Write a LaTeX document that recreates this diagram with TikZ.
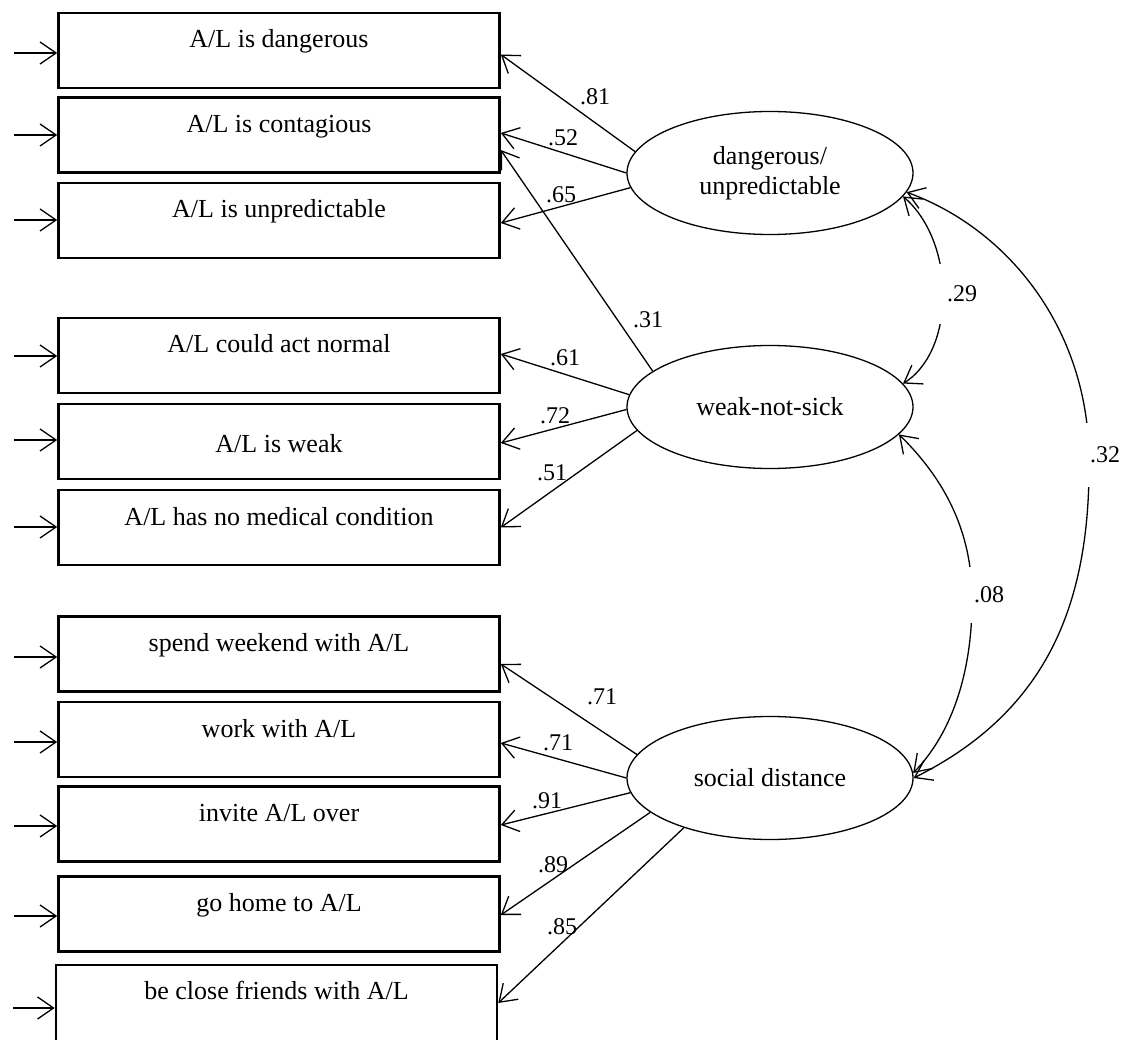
\documentclass[tikz,border=0pt]{standalone}
\usepackage{fontspec}
\setmainfont{Liberation Serif}
\usetikzlibrary{arrows.meta,shapes.geometric,calc}
\begin{document}
\begin{tikzpicture}[x=1pt,y=-1pt,
  box/.style={draw, line width=2.6pt, rectangle, minimum width=441pt, minimum height=75pt, inner sep=0pt},
  btxt/.style={anchor=base, font=\fontsize{26}{30}\selectfont, inner sep=0pt},
  lat/.style={draw, ellipse, line width=1.3pt, minimum width=286pt, minimum height=123pt, inner sep=0pt, align=center, font=\fontsize{26}{30}\selectfont},
  arr/.style={-{Straight Barb[length=16pt,width=22pt]}, line width=1.3pt},
  dbl/.style={{Straight Barb[length=16pt,width=22pt]}-{Straight Barb[length=16pt,width=22pt]}, line width=1.3pt},
  lbl/.style={font=\fontsize{24}{28}\selectfont, inner sep=0pt},
  gap/.style={lbl, fill=white, anchor=west, inner xsep=10pt, inner ysep=0pt}]
\useasboundingbox (0,0) rectangle (1135,1040);
\clip (0,0) rectangle (1135,1040);

% indicator boxes
\node[box] (b1) at (279,50.5) {};
\node[box] (b2) at (279,135) {};
\node[box] (b3) at (279,220.5) {};
\node[box] (b4) at (279,355.5) {};
\node[box] (b5) at (279,441.5) {};
\node[box] (b6) at (279,527.5) {};
\node[box] (b7) at (279,654) {};
\node[box] (b8) at (279,739.5) {};
\node[box] (b9) at (279,824) {};
\node[box] (b10) at (279,914) {};
\node[box, minimum height=90pt] (b11) at (276.5,1010) {};

\node[btxt] (t1) at (279,48) {A/L is dangerous};
\node[btxt] (t2) at (279,133) {A/L is contagious};
\node[btxt] (t3) at (279,218) {A/L is unpredictable};
\node[btxt] (t4) at (279,353) {A/L could act normal};
\node[btxt] (t5) at (279,452) {A/L is weak};
\node[btxt] (t6) at (279,525) {A/L has no medical condition};
\node[btxt] (t7) at (279,651) {spend weekend with A/L};
\node[btxt] (t8) at (279,737) {work with A/L};
\node[btxt] (t9) at (279,821) {invite A/L over};
\node[btxt] (t10) at (279,911) {go home to A/L};
\node[btxt] (t11) at (276.5,999) {be close friends with A/L};

% error arrows
\coordinate (s1) at (14,53);
\coordinate (s2) at (14,135);
\coordinate (s3) at (14,220);
\coordinate (s4) at (14,356);
\coordinate (s5) at (14,440);
\coordinate (s6) at (14,527);
\coordinate (s7) at (14,657);
\coordinate (s8) at (14,742);
\coordinate (s9) at (14,826);
\coordinate (s10) at (14,916);
\coordinate (s11) at (13,1008);
\foreach \i in {1,...,11} {\draw[arr] (s\i) -- (s\i -| b\i.west);}

% latent variables
\node[lat] (e1) at (770,173) {dangerous/\\unpredictable};
\node[lat] (e2) at (770,407) {weak-not-sick};
\node[lat] (e3) at (770,778) {social distance};

% loadings
\draw[arr] (e1.171) -- ($(b1.east)+(0,4)$);
\draw[arr] (e1.180) -- ($(b2.east)+(0,-2)$);
\draw[arr] (e1.186) -- ($(b3.east)+(0,2.5)$);
\draw[arr] (e2.163) -- ($(b2.east)+(0,15)$);
\draw[arr] (e2.175) -- ($(b4.east)+(0,-1.5)$);
\draw[arr] (e2.181) -- ($(b5.east)+(0,1.5)$);
\draw[arr] (e2.190) -- (b6.east);
\draw[arr] (e3.170) -- ($(b7.east)+(0,10)$);
\draw[arr] (e3.180) -- ($(b8.east)+(0,3.5)$);
\draw[arr] (e3.186) -- ($(b9.east)+(0,1)$);
\draw[arr] (e3.196) -- ($(b10.east)+(0,1)$);
\draw[arr] (e3.210.5) -- ($(b11.east)+(0,-7)$);

\node[lbl] (l81) at (595,97) {.81};
\node[lbl] (l52) at (563,138) {.52};
\node[lbl] (l65) at (561,195) {.65};
\node[lbl] (l31) at (648,320) {.31};
\node[lbl] (l61) at (565,358) {.61};
\node[lbl] (l72) at (555,416) {.72};
\node[lbl] (l51) at (552,473) {.51};
\node[lbl] (l71a) at (602,697) {.71};
\node[lbl] (l71b) at (558,743) {.71};
\node[lbl] (l91) at (547,801) {.91};
\node[lbl] (l89) at (553,865) {.89};
\node[lbl] (l85) at (562,927) {.85};

% covariances
\draw[dbl] (e1.350) .. controls (925,215) and (943,250) .. (943,294) .. controls (943,340) and (925,370) .. (e2.10);
\draw[dbl] (e2.348) .. controls (935,470) and (971,520) .. (972,595) .. controls (973,665) and (955,730) .. (e3.2);
\draw[dbl] (e1.352) .. controls (1010,230) and (1087,330) .. (1089,455) .. controls (1091,600) and (1050,710) .. (e3.0);
\node[gap, minimum height=60pt] (l29) at (937,294) {.29};
\node[gap, minimum height=56pt, inner xsep=8pt] (l08) at (966,595) {.08};
\node[gap, minimum height=64pt] (l32) at (1080,455) {.32};
\end{tikzpicture}
\end{document}
